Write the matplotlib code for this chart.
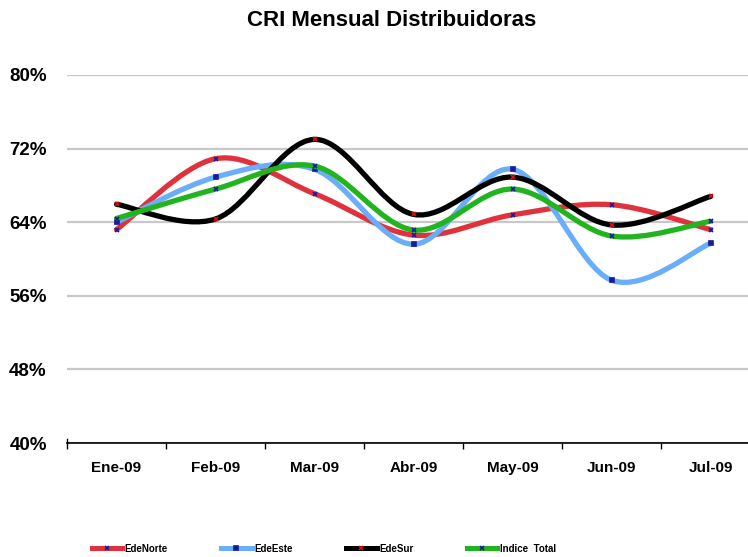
import matplotlib.pyplot as plt
import numpy as np
from matplotlib.path import Path
from matplotlib.patches import PathPatch
from matplotlib.lines import Line2D

plt.rcParams['font.family'] = ['Liberation Sans', 'DejaVu Sans']
plt.rcParams['font.weight'] = 'bold'

months = ['Ene-09', 'Feb-09', 'Mar-09', 'Abr-09', 'May-09', 'Jun-09', 'Jul-09']
ede_norte = [63.2, 70.9, 67.1, 62.6, 64.8, 65.9, 63.2]
ede_este = [64.0, 68.9, 69.75, 61.6, 69.75, 57.7, 61.7]
ede_sur = [65.95, 64.35, 73.0, 64.85, 68.9, 63.7, 66.8]
indice_total = [64.4, 67.6, 70.1, 63.15, 67.6, 62.5, 64.1]

series = [
    ('EdeNorte', ede_norte, '#E0323C', 'x', '#1A1A9C'),
    ('EdeEste', ede_este, '#6AAEFA', 's', '#1A1A9C'),
    ('EdeSur', ede_sur, '#000000', 'x', '#E01010'),
    ('Indice  Total', indice_total, '#22B41E', 'x', '#1A1A9C'),
]


def smooth_path(xs, ys, k=1/6):
    # bezier segments like Excel's smoothed line
    pts = np.column_stack([xs, ys]).astype(float)
    n = len(pts)
    verts = [pts[0]]
    codes = [Path.MOVETO]
    for i in range(n - 1):
        p0 = pts[max(i - 1, 0)]
        p1 = pts[i]
        p2 = pts[i + 1]
        p3 = pts[min(i + 2, n - 1)]
        c1 = p1 + (p2 - p0) * k
        c2 = p2 - (p3 - p1) * k
        verts += [c1, c2, p2]
        codes += [Path.CURVE4] * 3
    return Path(verts, codes)


fig = plt.figure(figsize=(7.48, 5.57), dpi=100)
ax = fig.add_axes([67/748, 114/557, 693/748, 368/557])

x = np.arange(len(months))
handles = []
for i, (name, vals, col, mk, mcol) in enumerate(series):
    ax.add_patch(PathPatch(smooth_path(x, vals), facecolor='none', edgecolor=col,
                           lw=3.8, zorder=3 + i, capstyle='round'))
    ms = 2.5 if mk == 's' else 3.5
    ax.plot(x, vals, lw=0, marker=mk, ms=ms, mec=mcol, mfc=mcol, mew=1.2, zorder=3 + i)
    handles.append(Line2D([0], [0], color=col, lw=3.6, marker=mk, ms=ms,
                          mec=mcol, mfc=mcol, mew=1.2, label=name))

ax.set_xlim(-0.5, 6.5)
ax.set_ylim(40, 80)
ax.set_yticks([40, 48, 56, 64, 72, 80])
ax.set_yticklabels(['%d%%' % v for v in [40, 48, 56, 64, 72, 80]], fontsize=13.5, fontweight='bold')
ax.set_xticks(x)
ax.set_xticklabels(months, fontsize=11, fontweight='bold')
ax.set_xticks(np.arange(-0.5, 7, 1), minor=True)
ax.tick_params(axis='x', which='major', length=0, pad=13)
ax.tick_params(axis='x', which='minor', length=4, width=1)
ax.tick_params(axis='y', length=0, pad=14.5)
ax.yaxis.grid(True, color='#C8C8C8', lw=1.6)
ax.set_axisbelow(True)
for s in ['top', 'right', 'left']:
    ax.spines[s].set_visible(False)
ax.spines['bottom'].set_linewidth(1.2)
ax.plot([-0.5, -0.5], [40, 40.4], color='black', lw=1, clip_on=False)

fig.text(0.523, 0.963, 'CRI Mensual Distribuidoras', ha='center', va='center',
         fontsize=16, fontweight='bold')

fig.legend(handles=handles, ncol=4, loc='center', bbox_to_anchor=(324/748, 8.5/557),
           frameon=False, prop={'size': 7, 'weight': 'bold'}, handlelength=3.1,
           handletextpad=0.3, columnspacing=5.5, borderpad=0)

fig.savefig('out.png', dpi=100)
